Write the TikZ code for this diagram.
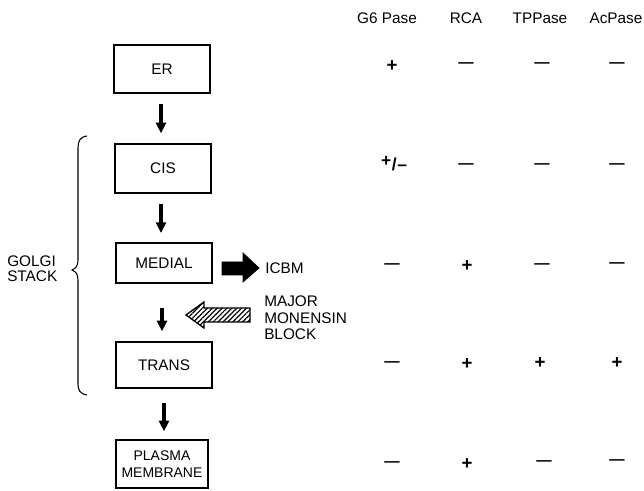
\documentclass[tikz,border=0pt]{standalone}
\usepackage{fontspec}
\setmainfont{Liberation Sans}
\usetikzlibrary{arrows.meta,patterns.meta}
\begin{document}
\begin{tikzpicture}[x=0.75pt,y=-0.75pt,
  font=\fontsize{11.5}{13}\selectfont,
  stage/.style={draw,line width=1pt,minimum width=72pt,inner sep=0pt,align=center},
  flow/.style={line width=3pt,-{Triangle[width=7.5pt,length=8pt]}},
  lbl/.style={inner sep=0pt,align=left},
  hdr/.style={inner sep=0pt},
  plussign/.style={inner sep=0pt,anchor=base,font=\fontsize{14}{14}\selectfont\bfseries},
  minussign/.style={inner sep=0pt,anchor=base,font=\fontsize{11.5}{11.5}\selectfont\bfseries}]
\useasboundingbox (0,0) rectangle (644,491);

% stages
\node[stage,minimum height=36pt] (er) at (162,69) {ER};
\node[stage,minimum height=36.75pt] (cis) at (163,168.5) {CIS};
\node[stage,minimum height=30pt] (med) at (164,263) {MEDIAL};
\node[stage,minimum height=34.5pt] (trans) at (164,365) {TRANS};
\node[stage,minimum width=69pt,minimum height=36pt,font=\fontsize{10.5}{13}\selectfont] (pm) at (162,464) {PLASMA\\MEMBRANE};

% flow arrows
\draw[flow,shorten <=7.5pt,shorten >=7.5pt] ([xshift=-0.75pt]er.south) -- ([xshift=-1.5pt]cis.north);
\draw[flow,shorten <=8pt,shorten >=7pt] ([xshift=-1.5pt]cis.south) -- ([xshift=-2.25pt]med.north);
\draw[flow,shorten <=18.5pt,shorten >=7.5pt] ([xshift=-1.5pt]med.south) -- ([xshift=-1.5pt]trans.north);
\draw[flow,shorten <=10.5pt,shorten >=6pt] (trans.south) -- ([xshift=1.5pt]pm.north);

% brace
\draw[line width=0.8pt] (87,136) .. controls (80,137) and (78,141) .. (78,148)
  -- (78,260) .. controls (78,266) and (76,268) .. (72,270)
  .. controls (76,272) and (78,274) .. (78,280)
  -- (78,384) .. controls (78,390) and (80,394) .. (87,395);
\node[lbl,anchor=west,font=\fontsize{11.5}{11}\selectfont] (golgi) at (7,269) {GOLGI\\STACK};

% ICBM arrow
\draw[fill=black,line width=0.6pt,line join=miter] (222,262) -- (243,262) -- (243,253) -- (259,268) -- (243,282) -- (243,275) -- (222,275) -- cycle;
\node[lbl,anchor=west] (icbm) at (265,268) {ICBM};

% monensin arrow
\draw[pattern={Lines[angle=45,distance=2.6pt,line width=0.9pt]},line width=1pt,line join=miter]
  (186,315) -- (204,302) -- (204,308) -- (250,308) -- (250,322) -- (204,322) -- (204,328) -- cycle;
\node[lbl,anchor=west,font=\fontsize{11.5}{12.4}\selectfont] (mon) at (264,318) {MAJOR\\MONENSIN\\BLOCK};

% table headers
\node[hdr] (h1) at (387,18) {G6 Pase};
\node[hdr] (h2) at (466,18) {RCA};
\node[hdr] (h3) at (540,18) {TPPase};
\node[hdr] (h4) at (616,18) {AcPase};

% row ER
\node[plussign] (a1) at (392,72) {+};
\node[minussign] (a2) at (466,68) {—};
\node[minussign] (a3) at (542,68) {—};
\node[minussign] (a4) at (617,68) {—};
% row CIS
\node[inner sep=0pt,anchor=base,font=\fontsize{13}{13}\selectfont\bfseries] (b1) at (394,171) {\raisebox{3.5pt}{+}\kern0.5pt/\kern0.5pt–};
\node[minussign] (b2) at (466,169) {—};
\node[minussign] (b3) at (542,169) {—};
\node[minussign] (b4) at (617,169) {—};
% row MEDIAL
\node[minussign] (c1) at (392,269) {—};
\node[plussign] (c2) at (467,272) {+};
\node[minussign] (c3) at (542,269) {—};
\node[minussign] (c4) at (617,268) {—};
% row TRANS
\node[minussign] (d1) at (392,367) {—};
\node[plussign] (d2) at (467,370) {+};
\node[plussign] (d3) at (540,369) {+};
\node[plussign] (d4) at (617,369) {+};
% row PM
\node[minussign] (e1) at (392,467) {—};
\node[plussign] (e2) at (467,470) {+};
\node[minussign] (e3) at (544,466) {—};
\node[minussign] (e4) at (617,465) {—};
\end{tikzpicture}
\end{document}
